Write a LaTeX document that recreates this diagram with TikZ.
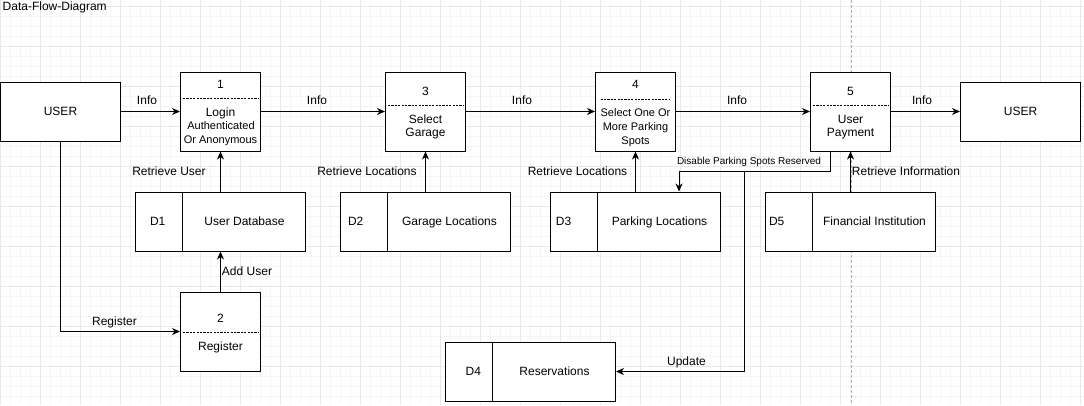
\documentclass[tikz,border=0pt]{standalone}
\usepackage{fontspec}
\setmainfont{Liberation Sans}
\usetikzlibrary{arrows.meta,calc}
\tikzset{
 gminor/.style={draw=black!4, line width=0.8pt},
 gmajor/.style={draw=black!9, line width=0.8pt},
 pagebreak/.style={draw=black!30, line width=1pt, dash pattern=on 3pt off 2pt},
 box/.style={draw=black, fill=white, line width=1pt, inner sep=0pt},
 proc/.style={box, minimum width=80pt, minimum height=79pt},
 ext/.style={box, minimum width=120pt, minimum height=59pt},
 store/.style={box, minimum width=170pt, minimum height=59pt},
 tA/.style={inner sep=0pt, text height=8.6pt, text depth=0pt, font=\fontsize{12}{14}\selectfont},
 tB/.style={inner sep=0pt, text height=7.9pt, text depth=0pt, font=\fontsize{11}{13}\selectfont},
 tC/.style={inner sep=0pt, text height=7.2pt, text depth=0pt, font=\fontsize{10}{12}\selectfont},
 flow/.style={draw=black, line width=1pt, -{Stealth[length=8pt,width=7pt,inset=2.5pt]}},
 sepline/.style={draw=black, line width=0.8pt, dash pattern=on 2.2pt off 1.2pt},
 divline/.style={draw=black, line width=1.5pt},
}
\begin{document}
\begin{tikzpicture}[x=1pt,y=-1pt]
\useasboundingbox (0,0) rectangle (1084,405);
% grid
\foreach \x in {0,10,...,1080} \draw[gminor] (\x+0.5,0) -- (\x+0.5,405);
\foreach \y in {6,16,...,396} \draw[gminor] (0,\y+0.5) -- (1084,\y+0.5);
\foreach \x in {0,40,...,1080} \draw[gmajor] (\x+0.5,0) -- (\x+0.5,405);
\foreach \y in {6,46,...,366} \draw[gmajor] (0,\y+0.5) -- (1084,\y+0.5);
\draw[pagebreak] (851,0) -- (851,405);

\node[tA, anchor=west] (title) at (2.5,6.5) {Data-Flow-Diagram};

% external entities
\node[ext, tA] (u1) at (60.5,111.5) {USER};
\node[ext, tA] (u2) at (1020.5,111.5) {USER};

% processes
\node[proc] (p1) at (220.5,111.5) {};
\node[proc] (p3) at (425.5,111.5) {};
\node[proc] (p4) at (635.5,111.5) {};
\node[proc] (p5) at (850.5,111.5) {};
\node[proc] (p2) at (220.5,331.5) {};

\node[tA] (p1a) at (220.5,84) {1};
\draw[sepline] (183,98.5) -- (258,98.5);
\node[tA] (p1b) at (220.5,112) {Login};
\node[tB] (p1c) at (221,126) {Authenticated};
\node[tB] (p1d) at (220.5,140) {Or Anonymous};

\node[tA] (p3a) at (425.5,90.7) {3};
\draw[sepline] (388,105) -- (463,105);
\node[tA] (p3b) at (425.5,119) {Select};
\node[tA] (p3c) at (425.5,132.5) {Garage};

\node[tA] (p4a) at (635.5,84.3) {4};
\draw[sepline] (600.5,99.3) -- (669.5,99.3);
\node[tB] (p4b) at (635.5,112.3) {Select One Or};
\node[tB] (p4c) at (635.5,126.3) {More Parking};
\node[tB] (p4d) at (635.5,140.3) {Spots};

\node[tA] (p5a) at (850.5,90.7) {5};
\draw[sepline] (813,105) -- (888,105);
\node[tA] (p5b) at (850.5,119) {User};
\node[tA] (p5c) at (850.5,132.3) {Payment};

\node[tA] (p2a) at (220.5,317.7) {2};
\draw[sepline] (183,332) -- (258,332);
\node[tA] (p2b) at (220.5,345.7) {Register};

% data stores
\node[store] (d1) at (220.5,221.5) {};
\node[store] (d2) at (425.5,221.5) {};
\node[store] (d3) at (635.5,221.5) {};
\node[store] (d5) at (850.5,221.5) {};
\node[store] (d4) at (530.5,371.5) {};
\foreach \s in {d1,d2,d3,d5,d4}
  \draw[divline] ([xshift=-38pt]\s.north) -- ([xshift=-38pt]\s.south);

\node[tA] (d1i) at (157.7,221.5) {D1};
\node[tA] (d1n) at ([xshift=24pt]d1.center) {User Database};
\node[tA] (d2i) at (355.7,221.5) {D2};
\node[tA] (d2n) at ([xshift=24pt]d2.center) {Garage Locations};
\node[tA] (d3i) at (563.5,221.5) {D3};
\node[tA] (d3n) at ([xshift=24pt]d3.center) {Parking Locations};
\node[tA] (d5i) at (776.7,221.5) {D5};
\node[tA] (d5n) at ([xshift=24pt]d5.center) {Financial Institution};
\node[tA] (d4i) at (473.3,371.5) {D4};
\node[tA] (d4n) at ([xshift=24pt]d4.center) {Reservations};

% flows
\draw[flow] (u1) -- (p1);
\draw[flow] (p1) -- (p3);
\draw[flow] (p3) -- (p4);
\draw[flow] (p4) -- (p5);
\draw[flow] (p5) -- (u2);
\draw[flow] (d1) -- (p1);
\draw[flow] (d2) -- (p3);
\draw[flow] (d3) -- (p4);
\draw[flow] (d5) -- (p5);
\draw[flow] (p2) -- (d1);
\draw[flow] (u1) |- (p2);
\coordinate (p5o) at ([xshift=-20.5pt]p5.south);
\coordinate (j1) at (830,171);
\coordinate (j2) at (744,171);
\coordinate (d3in) at ([xshift=43.5pt]d3.north);
\draw[flow] (p5o) -- (j1) -| (d3in);
\draw[flow] (p5o) -- (j1) -- (j2) |- (d4);

% labels
\node[tA] (l1) at (147,100) {Info};
\node[tA] (l2) at (317,100.5) {Info};
\node[tA] (l3) at (522,100.5) {Info};
\node[tA] (l4) at (737,100.5) {Info};
\node[tA] (l5) at (922,100.5) {Info};
\node[tA] (l6) at (169,170.7) {Retrieve User};
\node[tA] (l7) at (367,170.7) {Retrieve Locations};
\node[tA] (l8) at (577.5,170.7) {Retrieve Locations};
\node[tA] (l9) at (906,170.7) {Retrieve Information};
\node[tA] (l10) at (247,270.7) {Add User};
\node[tA] (l11) at (114.5,320.7) {Register};
\node[tA] (l12) at (686.5,360.7) {Update};
\node[tC] (l13) at (749,161.3) {Disable Parking Spots Reserved};
\end{tikzpicture}
\end{document}
